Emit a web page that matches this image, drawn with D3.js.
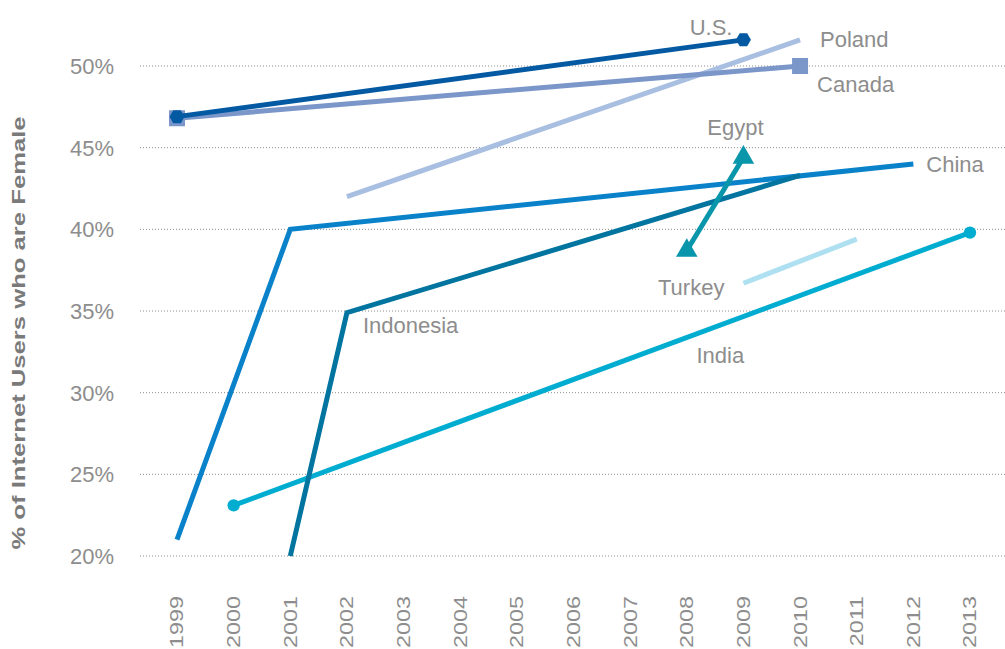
<!DOCTYPE html>
<html>
<head>
<meta charset="utf-8">
<script src="https://cdn.jsdelivr.net/npm/d3@7"></script>
<style>
  body { margin: 0; background: #fff; }
  text { font-family: "Liberation Sans", Arial, sans-serif; }
</style>
</head>
<body>
<div id="chart"></div>
<script>
// tick labels
var yearTicks = [1999, 2000, 2001, 2002, 2003, 2004, 2005, 2006, 2007, 2008, 2009, 2010, 2011, 2012, 2013];
var pctTicks = [20, 25, 30, 35, 40, 45, 50];

// series: [year, % female]
var usData = [[1999, 46.9], [2009, 51.6]];
var canadaData = [[1999, 46.8], [2010, 50.0]];
var polandData = [[2002, 42.0], [2010, 51.6]];
var chinaData = [[1999, 21.0], [2001, 40.0], [2012, 44.0]];
var indonesiaData = [[2001, 20.0], [2002, 34.9], [2010, 43.3]];
var egyptData = [[2008, 38.7], [2009, 44.4]];
var turkeyData = [[2009, 36.7], [2011, 39.4]];
var indiaData = [[2000, 23.1], [2013, 39.8]];

var width = 1005, height = 649;

var svg = d3.select("#chart")
  .append("svg")
  .attr("width", width)
  .attr("height", height);

var x = d3.scaleLinear().domain([1999, 2013]).range([177, 970]);
var y = d3.scaleLinear().domain([20, 50]).range([556, 66]);

// dotted gridlines
svg.append("g")
  .selectAll("line")
  .data(pctTicks)
  .enter()
  .append("line")
  .attr("x1", 140)
  .attr("x2", width)
  .attr("y1", function(d) { return y(d); })
  .attr("y2", function(d) { return y(d); })
  .attr("stroke", "#8c8c8c")
  .attr("stroke-width", 1)
  .attr("stroke-dasharray", "1,2");

// y tick labels
svg.append("g")
  .selectAll("text")
  .data(pctTicks)
  .enter()
  .append("text")
  .attr("x", 114)
  .attr("y", function(d) { return y(d); })
  .attr("dy", "0.36em")
  .attr("text-anchor", "end")
  .attr("fill", "#8d8d8d")
  .style("font-size", "22px")
  .text(function(d) { return d + "%"; });

// x tick labels (rotated)
svg.append("g")
  .selectAll("text")
  .data(yearTicks)
  .enter()
  .append("text")
  .attr("transform", function(d) {
    return "translate(" + x(d) + ",596) rotate(-90) scale(1.3,1)";
  })
  .attr("dy", "0.36em")
  .attr("text-anchor", "end")
  .attr("fill", "#8d8d8d")
  .style("font-size", "18px")
  .text(function(d) { return d; });

// y axis title
svg.append("text")
  .attr("transform", "translate(18,333) rotate(-90) scale(1.35,1)")
  .attr("dy", "0.36em")
  .attr("text-anchor", "middle")
  .attr("fill", "#7a7a7a")
  .style("font-size", "19px")
  .style("font-weight", "bold")
  .text("% of Internet Users who are Female");

var line = d3.line()
  .x(function(d) { return x(d[0]); })
  .y(function(d) { return y(d[1]); });

var series = [
  {name: "Turkey", data: turkeyData, color: "#afe0f1", marker: null},
  {name: "Poland", data: polandData, color: "#a9bfe1", marker: null},
  {name: "Canada", data: canadaData, color: "#7b96c9", marker: "square"},
  {name: "U.S.", data: usData, color: "#0359a2", marker: "hexagon"},
  {name: "India", data: indiaData, color: "#00add1", marker: "circle"},
  {name: "China", data: chinaData, color: "#0a82ca", marker: null},
  {name: "Indonesia", data: indonesiaData, color: "#01759f", marker: null},
  {name: "Egypt", data: egyptData, color: "#0995aa", marker: "triangle"}
];

function hexagon(r) {
  var pts = d3.range(6).map(function(i) {
    var a = Math.PI / 3 * i;
    return [r * Math.cos(a), r * Math.sin(a)];
  });
  return "M" + pts.join("L") + "Z";
}

var markerPath = {
  square: d3.symbol().type(d3.symbolSquare).size(256)(),
  circle: d3.symbol().type(d3.symbolCircle).size(120)(),
  triangle: d3.symbol().type(d3.symbolTriangle).size(200)(),
  hexagon: hexagon(7.5)
};

series.forEach(function(s) {
  var g = svg.append("g");
  g.append("path")
    .datum(s.data)
    .attr("d", line)
    .attr("fill", "none")
    .attr("stroke", s.color)
    .attr("stroke-width", 5);
  if (s.marker) {
    var ends = [s.data[0], s.data[s.data.length - 1]];
    g.selectAll(".mk")
      .data(ends)
      .enter()
      .append("path")
      .attr("d", markerPath[s.marker])
      .attr("transform", function(d) { return "translate(" + x(d[0]) + "," + y(d[1]) + ")"; })
      .attr("fill", s.color);
  }
});

// series labels: anchor point in data space plus pixel offset
var labels = [
  {text: "U.S.", year: 2009, value: 51.6, dx: -11, dy: -5, anchor: "end"},
  {text: "Poland", year: 2010, value: 51.6, dx: 20, dy: 7, anchor: "start"},
  {text: "Canada", year: 2010, value: 50.0, dx: 17, dy: 26, anchor: "start"},
  {text: "Egypt", year: 2009, value: 44.4, dx: -8, dy: -22, anchor: "middle"},
  {text: "China", year: 2012, value: 44.0, dx: 13, dy: 8, anchor: "start"},
  {text: "Indonesia", year: 2002, value: 34.9, dx: 16, dy: 20, anchor: "start"},
  {text: "Turkey", year: 2009, value: 36.7, dx: -19, dy: 12, anchor: "end"},
  {text: "India", year: 2009, value: 34.9, dx: -47, dy: 50, anchor: "start"}
];

svg.append("g")
  .selectAll("text")
  .data(labels)
  .enter()
  .append("text")
  .attr("x", function(d) { return x(d.year) + d.dx; })
  .attr("y", function(d) { return y(d.value) + d.dy; })
  .attr("text-anchor", function(d) { return d.anchor; })
  .attr("fill", "#8d8d8d")
  .style("font-size", "22px")
  .text(function(d) { return d.text; });
</script>
</body>
</html>
